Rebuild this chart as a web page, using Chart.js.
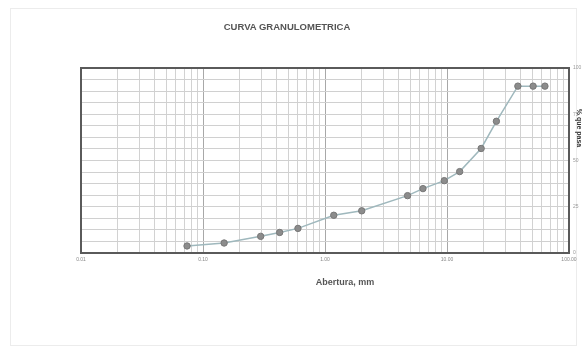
<!DOCTYPE html>
<html>
<head>
<meta charset="utf-8">
<script src="https://cdn.jsdelivr.net/npm/chart.js@4/dist/chart.umd.min.js"></script>
<style>
  html, body { margin: 0; padding: 0; background: #fff; overflow: hidden; }
  #wrap { position: relative; width: 585px; height: 356px; }
  #frame { position: absolute; left: 10px; top: 8px; width: 567px; height: 338px; border: 1px solid #ececec; box-sizing: border-box; }
  canvas { position: absolute; left: 0; top: 0; }
  .lbl { position: absolute; font-family: "Liberation Sans", Arial, sans-serif; font-weight: bold; color: #555; white-space: nowrap; transform: translate(-50%, -50%); }
</style>
</head>
<body>
<div id="wrap">
  <div id="frame"></div>
  <canvas id="c" width="585" height="356"></canvas>
  <div class="lbl" style="left:287px; top:26px; font-size:9.5px;">CURVA GRANULOMETRICA</div>
  <div class="lbl" style="left:345px; top:282px; font-size:9px;">Abertura, mm</div>
</div>
<script>
// Sieve openings (mm) and cumulative percentage passing
const aberturas = [0.074, 0.149, 0.297, 0.425, 0.600, 1.18, 2.00, 4.75, 6.35, 9.50, 12.70, 19.05, 25.40, 38.10, 50.80, 63.50];
const pasa      = [3.8, 5.4, 9.0, 11.1, 13.3, 20.4, 22.8, 31.0, 34.8, 39.1, 44.0, 56.5, 71.2, 90.2, 90.2, 90.2];

// Axis ranges and labelled ticks
const xMin = 0.01, xMax = 100;
const xLabels = [0.01, 0.1, 1, 10, 100];
const yMin = 0, yMax = 100, yStep = 6.25;
const yLabels = [0, 25, 50, 75, 100];

const points = aberturas.map((a, i) => ({ x: a, y: pasa[i] }));

const isDecade = v => xLabels.some(d => Math.abs(v - d) / d < 1e-6);

// Frame around the plotting area and the rotated y title
const framePlugin = {
  id: 'frame',
  afterDraw(chart) {
    const { ctx, chartArea: a } = chart;
    ctx.save();
    ctx.strokeStyle = '#5a5a5a';
    ctx.lineWidth = 2;
    ctx.strokeRect(a.left, a.top, a.right - a.left, a.bottom - a.top);
    ctx.translate(579, 128);
    ctx.rotate(Math.PI / 2);
    ctx.fillStyle = '#333';
    ctx.font = 'bold 7px "Liberation Sans", Arial, sans-serif';
    ctx.textAlign = 'center';
    ctx.textBaseline = 'middle';
    ctx.fillText('% que pasa', 0, 0);
    ctx.restore();
  }
};

new Chart(document.getElementById('c'), {
  type: 'scatter',
  data: {
    datasets: [{
      data: points,
      showLine: true,
      borderColor: '#9fb8bd',
      borderWidth: 1.5,
      backgroundColor: '#8c8c8c',
      pointBorderColor: '#777',
      pointBorderWidth: 1,
      pointRadius: 3.2,
      tension: 0
    }]
  },
  options: {
    responsive: false,
    animation: false,
    events: [],
    layout: { padding: { left: 81, top: 68, right: 0, bottom: 0 } },
    plugins: { legend: { display: false }, tooltip: { enabled: false } },
    scales: {
      x: {
        type: 'logarithmic',
        min: xMin,
        max: xMax,
        afterFit(s) { s.height = 103; },
        afterBuildTicks(s) {
          const t = [];
          for (let e = -2; e <= 1; e++) {
            for (let m = 1; m <= 9; m++) t.push({ value: m * Math.pow(10, e) });
          }
          t.push({ value: 100 });
          s.ticks = t;
        },
        grid: {
          color: c => isDecade(c.tick.value) ? '#a8a8a8' : '#d2d2d2',
          lineWidth: 1,
          drawTicks: false
        },
        border: { display: false },
        ticks: {
          autoSkip: false,
          maxRotation: 0,
          padding: 4,
          color: '#888',
          font: { size: 5, family: '"Liberation Sans", Arial, sans-serif' },
          callback: v => isDecade(v) ? Number(v).toFixed(2) : ''
        }
      },
      y: {
        position: 'right',
        min: yMin,
        max: yMax,
        afterFit(s) { s.width = 16; },
        afterBuildTicks(s) {
          const t = [];
          for (let v = yMin; v <= yMax + 1e-9; v += yStep) t.push({ value: v });
          s.ticks = t;
        },
        grid: { color: '#d0d0d0', lineWidth: 1, drawTicks: false },
        border: { display: false },
        ticks: {
          autoSkip: false,
          padding: 4,
          color: '#999',
          font: { size: 5, family: '"Liberation Sans", Arial, sans-serif' },
          callback: v => yLabels.includes(v) ? String(v) : ''
        }
      }
    }
  },
  plugins: [framePlugin]
});
</script>
</body>
</html>
